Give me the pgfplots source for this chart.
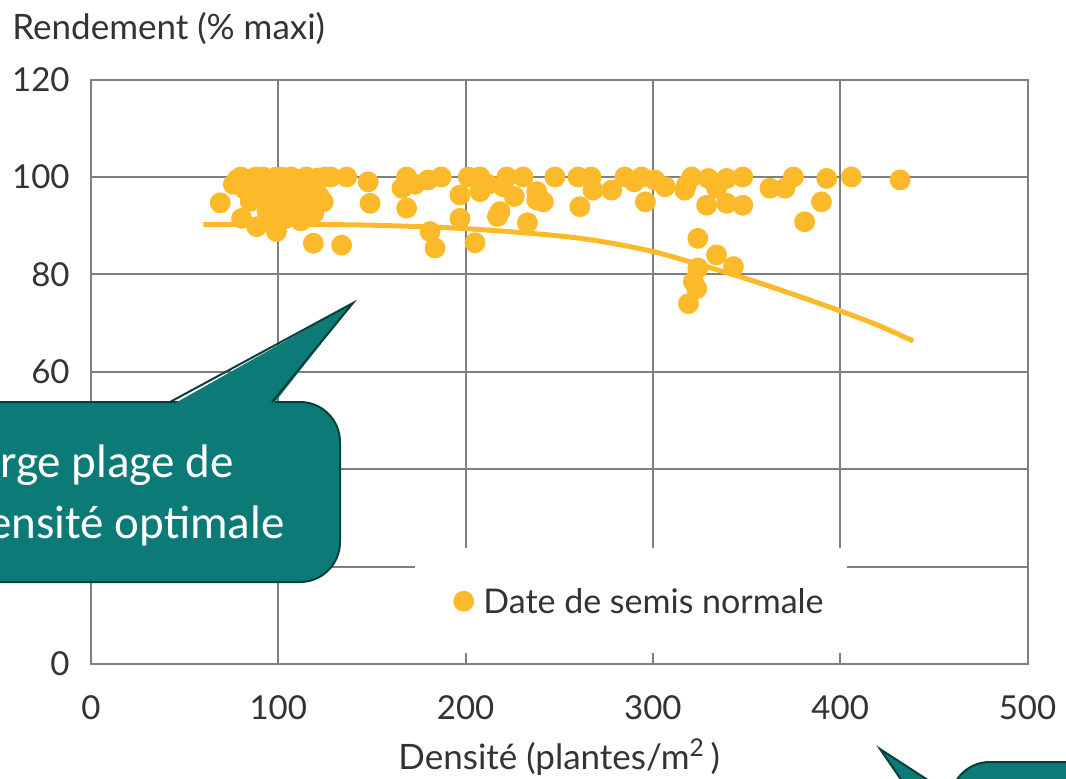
\documentclass[border=0pt]{standalone}
\usepackage{pgfplots}
\pgfplotsset{compat=1.18}
\usepackage{fontspec}
\setmainfont{Lato}
\newfontfamily\calfont{Carlito}
\definecolor{mc}{HTML}{FCBA2A}
\definecolor{gridc}{HTML}{7F7F7F}
\definecolor{tealc}{HTML}{0C7A77}
\definecolor{tealb}{HTML}{083F3C}
\definecolor{txtc}{HTML}{333333}
\begin{document}
\begin{tikzpicture}[x=0.5pt,y=0.5pt]
\useasboundingbox (0,0) rectangle (1066,778);
\clip (0,0) rectangle (1066,778);
\begin{axis}[
  at={(45.5pt,57pt)}, anchor=south west,
  scale only axis, width=468.25pt, height=292.2pt,
  xmin=0, xmax=500, ymin=0, ymax=120,
  xtick={0,100,...,500}, ytick={0,20,...,120},
  yticklabels={0,,,60,80,100,120},
  /pgf/number format/assume math mode=true,
  grid=major, grid style={gridc, line width=1pt},
  axis line style={gridc, line width=1pt},
  major tick length=0pt,
  tick label style={font=\fontsize{16.5}{19}\selectfont, text=txtc},
  xticklabel style={anchor=center, yshift=-22pt},
  yticklabel style={anchor=east, inner sep=0pt, xshift=-10.5pt},
  xlabel={Densité (plantes/m\textsuperscript{2}\,)},
  xlabel style={at={(rel axis cs:0.5,-0.159)}, anchor=center, font=\fontsize{17.5}{20}\selectfont, text=txtc},
  ylabel={Rendement (\% maxi)},
  ylabel style={rotate=-90, at={(rel axis cs:-0.0844,1.088)}, anchor=west, inner sep=0pt, font=\fontsize{17.5}{20}\selectfont, text=txtc},
  clip=false,
]
\fill[white] (axis cs:173,2.3) rectangle (axis cs:403.5,23.8);
\addplot[only marks, mark=*, mark size=5pt, color=mc, mark options={draw=none, fill=mc}] coordinates {
(69,94.7)(76,98.5)(80,100)(84,99.5)(86,97)(88,100)(90,98)(92,100)(95,99)(97,96.5)
(99,100)(100,98)(102,100)(103,95.5)(105,99)(107,100)(108,97)(110,93.5)(111,99.5)(113,96)
(115,100)(117,94.5)(119,92.6)(120,97)(121,99.8)(124,94.9)(125,100)(128,100)(80.4,91.5)(88.5,89.8)
(99,88.8)(94,93)(104,91.5)(118.7,86.4)(133.8,86)(136.5,100)(148,99)(149,94.6)(85,95)(112,91)
(78,99.5)(82,97.5)(93,95.5)(96,91)(101,94)(106,96.5)(109,99)(114,98)(116,92)(122,96)
(166,97.7)(168.5,100)(168.5,93.6)(173,98.5)(180,99.4)(187,100)(181,88.8)(183.7,85.4)(197,91.5)(197,96.3)
(201.4,100)(207.7,100)(207.7,97)(205,86.5)(212,98.5)(217,91.9)(218.4,92.9)(220,98)(222,100)(226,96)
(230.7,100)(233,90.6)(238,97)(238,95.3)(241.5,94.9)(247.7,100)(260,100)(267,100)(261,93.9)(268,97.3)
(278,97.3)(285,100)(290,99)(294,100)(296,94.9)(301,99.4)(306.5,98)(317,97.3)(318,98.4)(320.7,100)
(329.6,99.7)(328.7,94.2)(334,97.7)(339.4,99.7)(339.4,94.6)(348,100)(348,94.2)(362.5,97.7)(370.5,97.7)(375,100)
(381,90.8)(390,94.9)(392.8,99.7)(406,100)(432,99.4)
(324,87.4)(334,84)(343,81.6)(324,81.3)(321.6,78.5)(323.4,77.1)(319,74)
};
\addplot[mc, line width=2.5pt, smooth] coordinates {
(60,90.2)(100,90.3)(150,90.1)(200,89.4)(250,87.9)(275,86.6)(300,84.7)(325,82.0)(350,79.1)(375,75.9)(400,72.5)(420,69.6)(439,66.3)
};
\addplot[only marks, mark=*, mark size=5pt, color=mc, mark options={draw=none, fill=mc}] coordinates {(199,12.9)};
\node[anchor=west, inner sep=0pt, font=\fontsize{17}{20}\selectfont, text=txtc] at (axis cs:209.3,12.9) {Date de semis normale};
\end{axis}
% callout 1
\filldraw[fill=tealc, draw=tealb, line width=1pt, rounded corners=20] (-100,196) rectangle (340,376);
\fill[tealc] (170,372) -- (353,475) -- (272,372) -- cycle;
\draw[tealb, line width=1pt, line join=miter] (170,376) -- (353,475) -- (272,376);
\node[anchor=base east, text=white, font=\calfont\fontsize{23.5}{28}\selectfont, inner sep=0pt] at (234,301) {Large plage de};
\node[anchor=base east, text=white, font=\calfont\fontsize{23.5}{28}\selectfont, inner sep=0pt] at (285,240) {densité optimale};
% callout 2
\filldraw[fill=tealc, draw=tealb, line width=1pt, rounded corners=20] (950,16) rectangle (1200,-200);
\fill[tealc] (954,-19) -- (880,29) -- (922,-32) -- (960,-32) -- cycle;
\draw[tealb, line width=1pt, line join=miter] (954,-19) -- (880,29) -- (922,-32);
\end{tikzpicture}
\end{document}
